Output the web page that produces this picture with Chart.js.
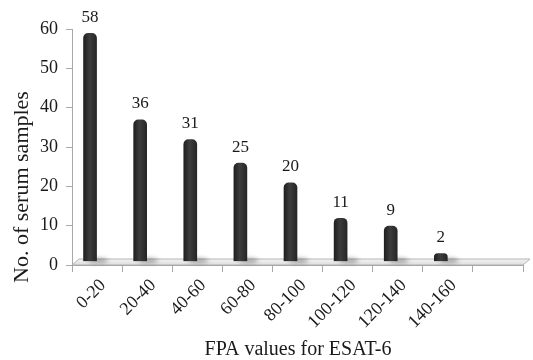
<!DOCTYPE html>
<html>
<head>
<meta charset="utf-8">
<script src="https://cdn.jsdelivr.net/npm/chart.js@4.4.0/dist/chart.umd.min.js"></script>
<style>
  html, body { margin: 0; padding: 0; background: #ffffff; }
  canvas { display: block; }
</style>
</head>
<body>
<canvas id="fpaChart" width="533" height="360"></canvas>
<script>
  // FPA value ranges and how many serum samples fell in each
  const categories = ['0-20', '20-40', '40-60', '60-80', '80-100', '100-120', '120-140', '140-160', ''];
  const sampleCounts = [58, 36, 31, 25, 20, 11, 9, 2, null];
  const yMin = 0;
  const yMax = 60;
  const yStep = 10;

  const xTitle = 'FPA values for ESAT-6';
  const yTitle = 'No. of serum samples';

  const serif = "'Liberation Serif', 'Times New Roman', serif";
  const depthX = 7;   // floor depth, drawn as a slanted strip
  const depthY = 6;

  // light floor strip under the bars
  const floorPlugin = {
    id: 'floor',
    beforeDraw(chart) {
      const { ctx, chartArea } = chart;
      const l = chartArea.left, r = chartArea.right, b = chartArea.bottom;
      ctx.save();
      const grad = ctx.createLinearGradient(0, b - depthY, 0, b);
      grad.addColorStop(0, '#f4f4f4');
      grad.addColorStop(1, '#dcdcdc');
      ctx.beginPath();
      ctx.moveTo(l, b);
      ctx.lineTo(r, b);
      ctx.lineTo(r + depthX, b - depthY);
      ctx.lineTo(l + depthX, b - depthY);
      ctx.closePath();
      ctx.fillStyle = grad;
      ctx.fill();
      ctx.strokeStyle = '#b4b4b4';
      ctx.lineWidth = 1;
      ctx.stroke();
      ctx.restore();
    }
  };

  // bars sit in the middle of the floor, so shift them and their labels
  const barShiftPlugin = {
    id: 'barShift',
    beforeDatasetsDraw(chart) {
      const { ctx } = chart;
      ctx.save();
      ctx.translate(-7, -3.5);
      // soft shadows on the floor
      const meta = chart.getDatasetMeta(0);
      ctx.save();
      ctx.filter = 'blur(2px)';
      ctx.fillStyle = 'rgba(0,0,0,0.32)';
      meta.data.forEach((el, i) => {
        if (sampleCounts[i] == null) return;
        ctx.beginPath();
        ctx.ellipse(el.x + 8, el.base - 0.5, 10, 2.5, 0, 0, Math.PI * 2);
        ctx.fill();
      });
      ctx.restore();
    },
    afterDatasetsDraw(chart) {
      const { ctx } = chart;
      const meta = chart.getDatasetMeta(0);
      ctx.save();
      ctx.font = '17px ' + serif;
      ctx.fillStyle = '#1a1a1a';
      ctx.textAlign = 'center';
      ctx.textBaseline = 'middle';
      meta.data.forEach((el, i) => {
        if (sampleCounts[i] == null) return;
        ctx.fillText(String(sampleCounts[i]), el.x, el.y - 16);
      });
      ctx.restore();
      ctx.restore();
    }
  };

  // axis titles
  const titlePlugin = {
    id: 'axisTitles',
    afterDraw(chart) {
      const { ctx } = chart;
      ctx.save();
      ctx.fillStyle = '#1a1a1a';
      ctx.textAlign = 'center';
      ctx.textBaseline = 'middle';
      ctx.font = '20px ' + serif;
      ctx.fillText(xTitle, 298, 350);
      ctx.translate(22, 187);
      ctx.rotate(-Math.PI / 2);
      ctx.font = '22px ' + serif;
      ctx.fillText(yTitle, 0, 0);
      ctx.restore();
    }
  };

  const ctx = document.getElementById('fpaChart').getContext('2d');
  const fpaChart = new Chart(ctx, {
    type: 'bar',
    data: {
      labels: categories,
      datasets: [{
        data: sampleCounts,
        barThickness: 13,
        borderRadius: { topLeft: 5, topRight: 5, bottomLeft: 0, bottomRight: 0 },
        borderSkipped: 'bottom',
        backgroundColor: function (context) {
          const chart = context.chart;
          if (!chart.chartArea || context.dataIndex == null) return '#333333';
          const x = chart.scales.x.getPixelForValue(context.dataIndex);
          const g = chart.ctx.createLinearGradient(x - 6.5, 0, x + 6.5, 0);
          g.addColorStop(0, '#1f1f1f');
          g.addColorStop(0.45, '#3d3d3d');
          g.addColorStop(1, '#262626');
          return g;
        }
      }]
    },
    options: {
      responsive: false,
      animation: false,
      layout: { padding: { left: 0, right: 10, top: 29, bottom: 0 } },
      plugins: {
        legend: { display: false },
        tooltip: { enabled: false }
      },
      scales: {
        x: {
          offset: true,
          afterFit: function (scale) { scale.height = 95; },
          grid: {
            offset: true,
            drawOnChartArea: false,
            drawTicks: true,
            tickLength: 7,
            color: '#a8a8a8'
          },
          border: { display: true, color: '#a8a8a8' },
          ticks: {
            autoSkip: false,
            maxRotation: 45,
            minRotation: 45,
            labelOffset: 6,
            padding: 3,
            color: '#1a1a1a',
            font: { family: serif, size: 18 }
          }
        },
        y: {
          min: yMin,
          max: yMax,
          afterFit: function (scale) { scale.width = 72; },
          grid: {
            drawOnChartArea: false,
            drawTicks: true,
            tickLength: 6,
            color: '#a8a8a8'
          },
          border: { display: true, color: '#a8a8a8' },
          ticks: {
            stepSize: yStep,
            padding: 8,
            color: '#1a1a1a',
            font: { family: serif, size: 18 }
          }
        }
      }
    },
    plugins: [floorPlugin, barShiftPlugin, titlePlugin]
  });
</script>
</body>
</html>
